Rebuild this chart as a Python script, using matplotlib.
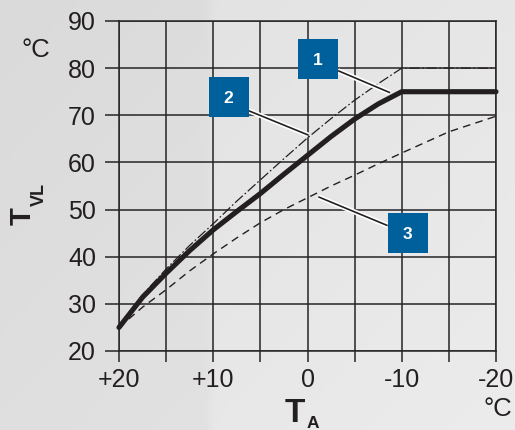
import numpy as np
import matplotlib
matplotlib.use("Agg")
import matplotlib.pyplot as plt
from matplotlib import patheffects as pe

plt.rcParams['font.family'] = ['Liberation Sans', 'DejaVu Sans']
plt.rcParams['lines.scale_dashes'] = False

# Outdoor temperature T_A (degC) and flow temperature T_VL (degC) for three heating curves
ta = [20, 17.5, 15, 12.5, 10, 7.5, 5, 2.5, 0, -2.5, -5, -7.5, -10, -15, -20]
curve1 = [25, 31.4, 36.5, 41.3, 45.7, 49.6, 53.4, 57.5, 61.5, 65.5, 69.2, 72.4, 75, 75, 75]
curve2 = [25, 31.9, 37.4, 42.4, 47.0, 51.8, 56.3, 60.8, 65.2, 69.3, 73.2, 76.7, 80, 80, 80]
curve3 = [25, 29.3, 33.0, 37.0, 40.6, 44.0, 47.2, 50.0, 52.5, 55.0, 57.3, 59.7, 62.0, 66.5, 69.8]

x_ticks = [20, 10, 0, -10, -20]
x_tick_labels = ['+20', '+10', '0', '-10', '-20']
x_minor = [15, 5, -5, -15]
y_ticks = [20, 30, 40, 50, 60, 70, 80, 90]

box_labels = ['1', '2', '3']

W, H = 515, 430
fig = plt.figure(figsize=(W / 100, H / 100), dpi=100)

# soft grey backdrop
bg = fig.add_axes([0, 0, 1, 1], zorder=-10)
xx = np.arange(W)[None, :]
yy = np.arange(H)[:, None]
step = 1 / (1 + np.exp(-(xx - 210) / 2.0))
shade = 0.855 + 0.025 * xx / W + 0.025 * step + 0.02 * yy / H
img = np.clip(np.repeat(shade[:, :, None], 3, axis=2), 0, 1)
bg.imshow(img, aspect='auto', extent=[0, 1, 0, 1], origin='upper')
bg.axis('off')

L, R, T, B = 119, 496, 21, 351
ax = fig.add_axes([L / W, 1 - B / H, (R - L) / W, (B - T) / H])
ax.patch.set_alpha(0)
ax.set_xlim(20, -20)
ax.set_ylim(20, 90)

grid_c = '#262424'
grid_lw = 1.1
for s in ax.spines.values():
    s.set_color(grid_c)
    s.set_linewidth(grid_lw)

ax.set_xticks(x_ticks)
ax.set_xticklabels(x_tick_labels)
ax.set_xticks(x_minor, minor=True)
ax.set_yticks(y_ticks)
ax.tick_params(axis='x', which='both', direction='out', length=8, width=grid_lw,
               color=grid_c, pad=4, labelsize=18, labelcolor='#231f20')
ax.tick_params(axis='y', which='both', direction='out', length=10, width=grid_lw,
               color=grid_c, pad=6.5, labelsize=18, labelcolor='#231f20')
ax.grid(True, which='both', axis='x', color=grid_c, linewidth=grid_lw)
ax.grid(True, which='major', axis='y', color=grid_c, linewidth=grid_lw)
ax.set_axisbelow(True)

line_c = '#231f20'
ax.plot(ta, curve3, color=line_c, lw=1.0, dashes=(5.5, 3.8), zorder=3, clip_on=False)
ax.plot(ta, curve2, color=line_c, lw=0.9, dashes=(7.5, 1.8, 1.2, 1.8), zorder=3, clip_on=False)
ax.plot(ta, curve1, color=line_c, lw=3.7, solid_capstyle='round',
        solid_joinstyle='round', zorder=4, clip_on=False)

# numbered callouts with leader lines
box_xy = [(-1.11, 81.94), (8.36, 73.94), (-10.62, 45.1)]
leaders = [((-3.24, 79.46), (-8.75, 74.8)),
           ((6.25, 70.97), (-0.09, 65.8)),
           ((-8.5, 46.6), (-1.15, 52.7))]
halo = [pe.Stroke(linewidth=3.6, foreground='white'), pe.Normal()]
for (p0, p1) in leaders:
    ax.plot([p0[0], p1[0]], [p0[1], p1[1]], color=line_c, lw=1.2,
            solid_capstyle='butt', zorder=5, path_effects=halo)
box_blue = '#00609b'
for lab, (bx, by) in zip(box_labels, box_xy):
    ax.plot([bx], [by], marker='s', markersize=29, color=box_blue,
            markeredgewidth=0, zorder=6, clip_on=False)
    ax.text(bx, by, lab, color='white', fontsize=12.5, fontweight='bold',
            ha='center', va='center_baseline', zorder=7)

def px(x, y):
    return x / W, 1 - y / H

tc = '#231f20'
fig.text(*px(36.3, 57), '°C', fontsize=18.5, ha='center', va='baseline', color=tc)
fig.text(*px(497.5, 416.5), '°C', fontsize=18.5, ha='center', va='baseline', color=tc)
fig.text(*px(23, 216.5), 'T', fontsize=21, fontweight='bold', rotation=90,
         ha='center', va='center', color=tc)
fig.text(*px(39.5, 194.5), 'VL', fontsize=13, fontweight='bold', rotation=90,
         ha='center', va='center', color=tc)
fig.text(*px(295, 421.7), 'T', fontsize=24, fontweight='bold', ha='center',
         va='baseline', color=tc)
fig.text(*px(312.5, 428.5), 'A', fontsize=12.5, fontweight='bold', ha='center',
         va='baseline', color=tc)

fig.savefig('out.png', dpi=100)
